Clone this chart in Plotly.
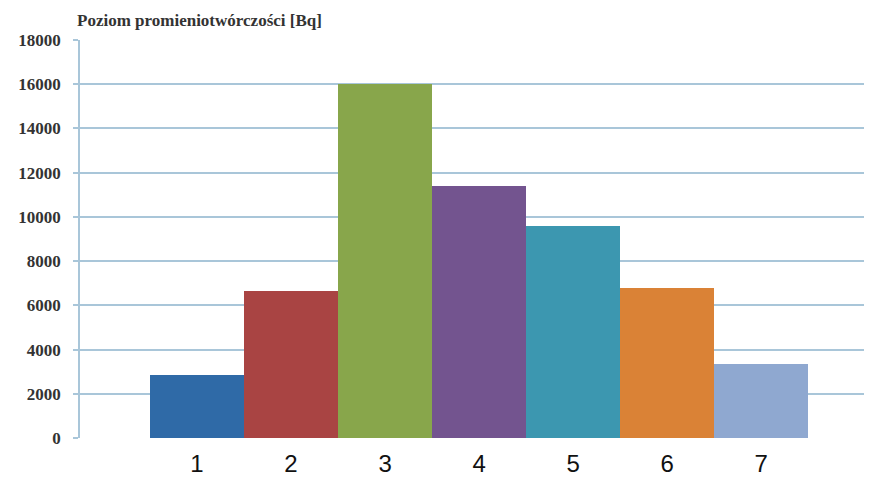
import plotly.graph_objects as go

categories = [1, 2, 3, 4, 5, 6, 7]
tick_labels = ["1", "2", "3", "4", "5", "6", "7"]
values = [2850, 6650, 16000, 11400, 9600, 6800, 3350]
bar_colors = ["#2f6aa7", "#a94443", "#88a64b", "#73548f", "#3c97b0", "#da8236", "#8fa8d0"]
y_ticks = [0, 2000, 4000, 6000, 8000, 10000, 12000, 14000, 16000, 18000]
title_text = "Poziom promieniotwórczości [Bq]"

grid_color = "#a9c6d9"
serif = "Liberation Serif, Times New Roman, serif"

# page body has an 8px margin, so the figure is drawn 8px smaller
W, H = 864, 471
L, T, B, R = 72, 32, 41, 0
plot_h = H - T - B
plot_w = W - L - R

fig = go.Figure()
fig.add_trace(go.Bar(
    x=categories, y=values, width=1.0,
    marker=dict(color=bar_colors, line=dict(width=0)),
    showlegend=False, hoverinfo="x+y",
))

fig.update_layout(
    width=W, height=H,
    margin=dict(l=L, r=R, t=T, b=B),
    paper_bgcolor="white", plot_bgcolor="white",
    bargap=0,
    xaxis=dict(
        range=[-0.245, 8.18],
        tickmode="array", tickvals=categories, ticktext=tick_labels,
        tickfont=dict(family="Liberation Sans, Arial, sans-serif", size=24, color="#111111"),
        showgrid=False, zeroline=False, showline=False, ticks="",
        ticklabelstandoff=9,
    ),
    yaxis=dict(
        range=[0, 18000],
        tickmode="array", tickvals=y_ticks,
        ticktext=[str(v) for v in y_ticks],
        tickfont=dict(family=serif, size=17, color="#333333", weight="bold"),
        showgrid=True, gridcolor=grid_color, gridwidth=1.5,
        zeroline=False,
        showline=True, linecolor=grid_color, linewidth=1.5,
        ticks="outside", ticklen=5, tickcolor=grid_color, tickwidth=1.5,
        ticklabelstandoff=9,
    ),
    annotations=[dict(
        text=title_text, xref="paper", yref="paper",
        x=(67 - L) / plot_w, y=1 + (T - 12) / plot_h,
        xanchor="left", yanchor="middle", showarrow=False,
        font=dict(family=serif, size=17, color="#333333", weight="bold"),
    )],
)

fig.write_html("out.html")
